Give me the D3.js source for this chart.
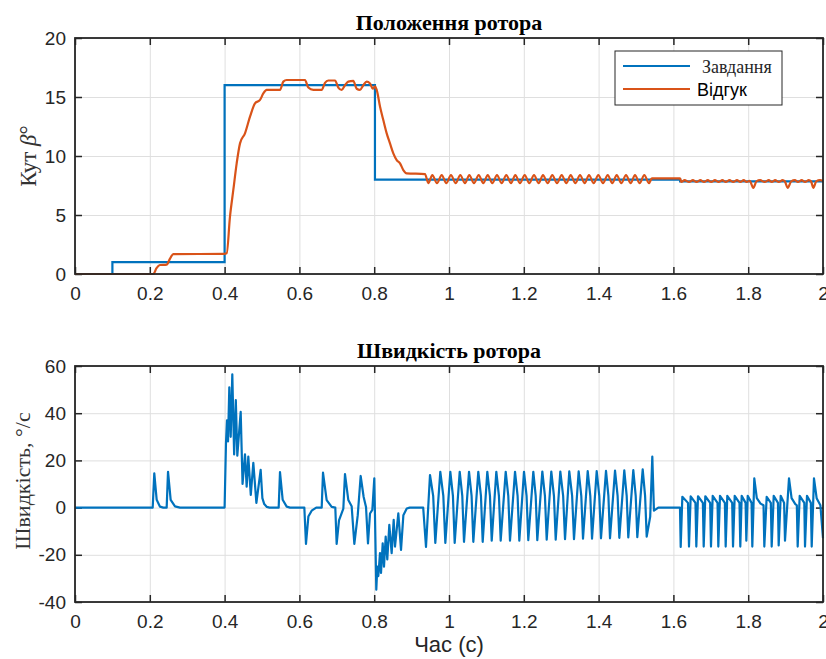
<!DOCTYPE html>
<head>
<script src="https://d3js.org/d3.v7.min.js"></script>
<meta charset="utf-8">
<style>
body { margin: 0; background: #fff; }
.tick text { font-family: "Liberation Sans", Arial, sans-serif; font-size: 19px; fill: #262626; }
</style>
</head>
<body>
<svg id="chart"></svg>
<script>

// ---- data ----

var xTicks = [0, 0.2, 0.4, 0.6, 0.8, 1, 1.2, 1.4, 1.6, 1.8, 2];
var angleTicks = [0, 5, 10, 15, 20];
var speedTicks = [-40, -20, 0, 20, 40, 60];

// reference angle (step)
var referenceAngle = [[0, 0], [0.1, 1], [0.4, 16], [0.802, 8], [1.618, 7.85], [2, 7.85]];

// measured angle
var responseAngle = [
  [0, 0], [0.2094, 0], [0.218, 0.5], [0.227, 0.76], [0.245, 0.8], [0.254, 1.3], [0.263, 1.69], [0.399, 1.7],
  [0.4056, 1.75], [0.4144, 4.86], [0.4233, 7.12], [0.4323, 9.38], [0.4412, 11.07], [0.4545, 11.92],
  [0.4679, 13.33], [0.4813, 14.46], [0.4947, 14.75], [0.5035, 15.3], [0.5126, 15.6], [0.5481, 15.6],
  [0.557, 16.3], [0.566, 16.44], [0.615, 16.44], [0.6238, 15.8], [0.6372, 15.6], [0.6596, 15.6],
  [0.6684, 16.2], [0.6773, 16.4], [0.6952, 16.4], [0.704, 15.8], [0.7131, 15.6], [0.7219, 16.0],
  [0.7307, 16.3], [0.7441, 16.36], [0.7532, 15.7], [0.762, 15.6], [0.7709, 16.0], [0.7799, 16.3],
  [0.7888, 16.15], [0.796, 15.7], [0.8021, 15.9], [0.8067, 15.6], [0.8155, 14.2], [0.8243, 13.05],
  [0.8334, 11.92], [0.8422, 11.07], [0.8511, 10.23], [0.8602, 9.66], [0.869, 9.38], [0.8778, 8.81],
  [0.8869, 8.53], [0.9358, 8.47], [0.9447, 7.7],
  [0.9554, 8.38], [0.9679, 7.7], [0.9805, 8.38], [0.9928, 7.7], [1.0053, 8.38], [1.0179, 7.7],
  [1.0302, 8.38], [1.0428, 7.7], [1.0543, 8.38], [1.0668, 7.7], [1.0794, 8.38], [1.0917, 7.7],
  [1.1035, 8.38], [1.1158, 7.7], [1.1283, 8.38], [1.1409, 7.7], [1.1532, 8.38], [1.1658, 7.7],
  [1.1773, 8.38], [1.1898, 7.7], [1.2024, 8.38], [1.2147, 7.7], [1.2273, 8.38], [1.2398, 7.7],
  [1.2513, 8.38], [1.2639, 7.7], [1.2762, 8.38], [1.2888, 7.7], [1.3013, 8.38], [1.3137, 7.7],
  [1.3254, 8.38], [1.3378, 7.7], [1.3503, 8.38], [1.3628, 7.7], [1.3743, 8.38], [1.3869, 7.7],
  [1.3992, 8.38], [1.4118, 7.7], [1.4243, 8.38], [1.4366, 7.7], [1.4484, 8.38], [1.4607, 7.7],
  [1.4733, 8.38], [1.4857, 7.7], [1.4973, 8.38], [1.5098, 7.7], [1.5222, 8.38], [1.5348, 7.7],
  [1.5423, 8.1], [1.618, 8.1],
  [1.621, 7.8], [1.63, 7.95], [1.642, 7.8], [1.652, 7.95], [1.662, 7.8], [1.672, 7.95], [1.682, 7.8],
  [1.692, 7.95], [1.701, 7.8], [1.711, 7.95], [1.721, 7.8], [1.731, 7.95], [1.74, 7.8], [1.75, 7.95],
  [1.76, 7.8], [1.77, 7.95], [1.779, 7.8], [1.788, 7.95], [1.796, 7.8], [1.804, 7.9], [1.8137, 7.3],
  [1.822, 7.85], [1.832, 7.95], [1.844, 7.8], [1.855, 7.95], [1.863, 7.8], [1.872, 7.95], [1.882, 7.8],
  [1.892, 7.95], [1.898, 7.85], [1.9055, 7.3], [1.915, 7.85], [1.925, 7.95], [1.933, 7.8], [1.943, 7.95],
  [1.952, 7.8], [1.962, 7.95], [1.968, 7.85], [1.974, 7.3], [1.982, 7.85], [1.992, 7.95], [2, 7.9]
];

// rotor speed, deg/s
var rotorSpeed = [
  [0, 0], [0.2077, 0], [0.212, 14.5], [0.2184, 3.3], [0.2273, 0.4], [0.236, 0], [0.2451, 0], [0.2487, 15.2],
  [0.2558, 3.3], [0.2674, 0.5], [0.2807, 0], [0.4, 0], [0.4037, 27.5], [0.4064, 37], [0.4091, 28],
  [0.4126, 51], [0.4163, 30], [0.4206, 56.5], [0.4255, 22.5], [0.43, 45.5], [0.434, 22], [0.443, 40.6],
  [0.448, 10], [0.4545, 22.6], [0.459, 8.9], [0.4634, 21.6], [0.47, 5.4], [0.4768, 19], [0.485, 2],
  [0.4964, 16], [0.501, 4], [0.506, 1.5], [0.513, 0.3], [0.52, 0], [0.5446, 0], [0.5481, 15],
  [0.5553, 3.3], [0.566, 0.4], [0.575, 0], [0.6132, 0], [0.6176, -15.4], [0.624, -3.8], [0.6328, -1.3],
  [0.645, 0], [0.6596, 0], [0.6631, 14.8], [0.6729, 3.2], [0.6863, 0.3], [0.696, 0], [0.6996, -15.4],
  [0.7059, -5.4], [0.7175, -0.4], [0.7219, 14.2], [0.7308, 3.2], [0.7397, 0.6], [0.7469, -15.4],
  [0.756, -3.2], [0.7638, 13.4], [0.7718, 4.5], [0.7781, 0.3], [0.7834, -15.2], [0.7888, -2.5],
  [0.795, -1], [0.8003, 12.4], [0.8056, -34.8], [0.8083, -25], [0.811, -29], [0.8155, -19.3],
  [0.8182, -27.7], [0.8227, -15.1], [0.8262, -25], [0.8307, -12.3], [0.835, -22], [0.8404, -7.3],
  [0.8467, -19.3], [0.8521, -5.2], [0.8556, -16.5], [0.8645, -2.4], [0.8717, -17.9], [0.878, -3.2],
  [0.887, -0.4], [0.895, 0], [0.931, 0],
  [0.9385, -16.7], [0.9492, 13.8], [0.9577, 5], [0.9634, -15], [0.9767, 15.2], [0.9848, 5],
  [0.9902, -15], [1.0035, 15.2], [1.0105, 5], [1.0152, -15], [1.0286, 15.2], [1.0355, 5],
  [1.0401, -14.5], [1.0535, 15.2], [1.0604, 5], [1.065, -14.5], [1.0783, 15.2], [1.0854, 5],
  [1.0901, -14.5], [1.1024, 15.2], [1.1095, 5], [1.1142, -14], [1.1265, 15.2], [1.1335, 5],
  [1.1382, -14], [1.1516, 15.2], [1.1585, 5], [1.1631, -14], [1.1765, 15.2], [1.1834, 5],
  [1.188, -14], [1.2005, 15.2], [1.2074, 5], [1.212, -13.8], [1.2254, 15.2], [1.2318, 5],
  [1.2361, -13.8], [1.2495, 15.3], [1.2565, 5], [1.2612, -13.6], [1.2735, 15.3], [1.2806, 5],
  [1.2853, -13.6], [1.2976, 15.3], [1.3052, 5], [1.3102, -13.4], [1.3216, 15.4], [1.3292, 5],
  [1.3342, -13.4], [1.3467, 15.4], [1.3537, 5], [1.3583, -13.2], [1.3709, 15.5], [1.3778, 5],
  [1.3824, -13.2], [1.3949, 15.5], [1.4018, 5], [1.4064, -13], [1.4198, 15.6], [1.4262, 5],
  [1.4305, -13], [1.4439, 15.7], [1.4508, 5], [1.4554, -12.8], [1.4687, 15.8], [1.4751, 5],
  [1.4794, -12.6], [1.4928, 15.9], [1.4992, 5], [1.5035, -12.5], [1.5179, 16.2], [1.5243, 5],
  [1.5286, -12.3], [1.538, -3.8], [1.5436, 21.6], [1.548, -1.3], [1.5597, 0], [1.6176, 0],
  [1.6195, -16.7], [1.6239, 4.6], [1.639, 2], [1.6417, -16.5], [1.6462, 4.8], [1.659, 2],
  [1.6613, -16.5], [1.6658, 4.8], [1.6788, 2], [1.681, -16.5], [1.6853, 4.8], [1.6983, 2],
  [1.7005, -16.5], [1.7051, 5], [1.718, 2], [1.7201, -16.5], [1.7246, 5], [1.7376, 2],
  [1.7398, -16.5], [1.7441, 5], [1.7572, 2], [1.7594, -16.5], [1.7639, 5], [1.7767, 2],
  [1.7789, -16.5], [1.7826, 5], [1.793, 2], [1.795, -14], [1.7987, 5], [1.809, 2],
  [1.811, -16.5], [1.8163, 12.4], [1.823, 4], [1.833, 1.7], [1.841, 1], [1.8431, -16.5],
  [1.8494, 4.6], [1.8605, 2], [1.8628, -16.5], [1.8682, 5], [1.8795, 2], [1.8815, -16],
  [1.8869, 5], [1.896, 2], [1.8984, -14], [1.9091, 12.4], [1.916, 4], [1.926, 1.5], [1.93, 1],
  [1.9323, -16.5], [1.9377, 5], [1.95, 2], [1.9519, -16.5], [1.9572, 5], [1.9675, 2],
  [1.9698, -16.5], [1.9759, 12.4], [1.983, 4], [1.993, 1], [2, -13]
];

// ---- layout ----

var width = 826, height = 659;
var blue = "#0072BD", orange = "#D95319", ink = "#262626";

var svg = d3.select("#chart").attr("width", width).attr("height", height);
svg.append("rect").attr("width", width).attr("height", height).attr("fill", "#fff");

var x = d3.scaleLinear().domain([0, 2]).range([75, 823]);
var yAngle = d3.scaleLinear().domain([0, 20]).range([274, 38]);
var ySpeed = d3.scaleLinear().domain([-40, 60]).range([602, 366]);

// matlab style: plain hyphen for negatives
var fmt = d => d3.format("~g")(d).replace("\u2212", "-");

function panel(y, yTicks, title) {
  var g = svg.append("g");
  var top = y.range()[1], bottom = y.range()[0];
  var left = x.range()[0], right = x.range()[1];

  // grid
  g.append("g").attr("transform", "translate(0," + bottom + ")")
    .call(d3.axisBottom(x).tickValues(xTicks).tickSize(-(bottom - top)).tickFormat(""))
    .call(a => a.select(".domain").remove())
    .call(a => a.selectAll("line").attr("stroke", "#dfdfdf"));
  g.append("g").attr("transform", "translate(" + left + ",0)")
    .call(d3.axisLeft(y).tickValues(yTicks).tickSize(-(right - left)).tickFormat(""))
    .call(a => a.select(".domain").remove())
    .call(a => a.selectAll("line").attr("stroke", "#dfdfdf"));

  // axes with inward ticks
  g.append("g").attr("transform", "translate(0," + bottom + ")")
    .call(d3.axisBottom(x).tickValues(xTicks).tickSizeInner(-7).tickSizeOuter(0).tickPadding(13).tickFormat(fmt))
    .call(a => a.select(".domain").remove());
  g.append("g").attr("transform", "translate(" + left + ",0)")
    .call(d3.axisLeft(y).tickValues(yTicks).tickSizeInner(-7).tickSizeOuter(0).tickPadding(9).tickFormat(fmt))
    .call(a => a.select(".domain").remove());
  g.append("g").attr("transform", "translate(0," + top + ")")
    .call(d3.axisTop(x).tickValues(xTicks).tickSizeInner(-7).tickSizeOuter(0).tickFormat(""))
    .call(a => a.select(".domain").remove());
  g.append("g").attr("transform", "translate(" + right + ",0)")
    .call(d3.axisRight(y).tickValues(yTicks).tickSizeInner(-7).tickSizeOuter(0).tickFormat(""))
    .call(a => a.select(".domain").remove());
  g.selectAll(".tick line").filter(function() { return this.getAttribute("stroke") !== "#dfdfdf"; })
    .attr("stroke", ink).attr("stroke-width", 1.5);

  g.append("text")
    .attr("x", (left + right) / 2).attr("y", top - 8)
    .attr("text-anchor", "middle")
    .style("font-family", "'Liberation Serif', 'Times New Roman', serif")
    .style("font-weight", "bold").style("font-size", "22px")
    .text(title);
  return g;
}

function frame(g, y) {
  g.append("rect")
    .attr("x", x.range()[0]).attr("y", y.range()[1])
    .attr("width", x.range()[1] - x.range()[0]).attr("height", y.range()[0] - y.range()[1])
    .attr("fill", "none").attr("stroke", ink).attr("stroke-width", 1.8);
}

// top: rotor position
var gTop = panel(yAngle, angleTicks, "Положення ротора");

gTop.append("path")
  .datum(referenceAngle)
  .attr("fill", "none").attr("stroke", blue).attr("stroke-width", 2.2)
  .attr("d", d3.line().x(d => x(d[0])).y(d => yAngle(d[1])).curve(d3.curveStepAfter));

gTop.append("path")
  .datum(responseAngle)
  .attr("fill", "none").attr("stroke", orange).attr("stroke-width", 2.2)
  .attr("d", d3.line().x(d => x(d[0])).y(d => yAngle(d[1])).curve(d3.curveMonotoneX));
frame(gTop, yAngle);

// legend
var legend = gTop.append("g");
legend.append("rect").attr("x", 615).attr("y", 51).attr("width", 167).attr("height", 54)
  .attr("fill", "#fff").attr("stroke", ink).attr("stroke-width", 1);
legend.append("line").attr("x1", 623).attr("x2", 690).attr("y1", 66).attr("y2", 66)
  .attr("stroke", blue).attr("stroke-width", 2.2);
legend.append("line").attr("x1", 623).attr("x2", 690).attr("y1", 89).attr("y2", 89)
  .attr("stroke", orange).attr("stroke-width", 2.2);
legend.append("text").attr("x", 702).attr("y", 73)
  .style("font-family", "'Liberation Serif', serif").style("font-size", "18px").attr("fill", ink)
  .text("Завдання");
legend.append("text").attr("x", 697).attr("y", 96)
  .style("font-family", "'Liberation Sans', sans-serif").style("font-size", "18px").attr("fill", "#000")
  .text("Відгук");

// y label top
var yl = svg.append("text")
  .attr("transform", "translate(36,156) rotate(-90)")
  .attr("text-anchor", "middle")
  .style("font-family", "'Liberation Serif', serif").style("font-size", "23px").attr("fill", "#333");
yl.append("tspan").text("Кут ");
yl.append("tspan").style("font-style", "italic").text("β");
yl.append("tspan").text("°");

// bottom: rotor speed
var gBot = panel(ySpeed, speedTicks, "Швидкість ротора");
gBot.append("path")
  .datum(rotorSpeed)
  .attr("fill", "none").attr("stroke", blue).attr("stroke-width", 2.2).attr("stroke-linejoin", "round")
  .attr("d", d3.line().x(d => x(d[0])).y(d => ySpeed(d[1])));
frame(gBot, ySpeed);

svg.append("text")
  .attr("transform", "translate(30,481) rotate(-90)")
  .attr("text-anchor", "middle")
  .style("font-family", "'Liberation Serif', serif").style("font-size", "22px").attr("fill", "#333")
  .text("Швидкість, °/с");

svg.append("text")
  .attr("x", 449).attr("y", 652)
  .attr("text-anchor", "middle")
  .style("font-family", "'Liberation Sans', sans-serif").style("font-size", "22px").attr("fill", ink)
  .text("Час (с)");

</script>
</body>
